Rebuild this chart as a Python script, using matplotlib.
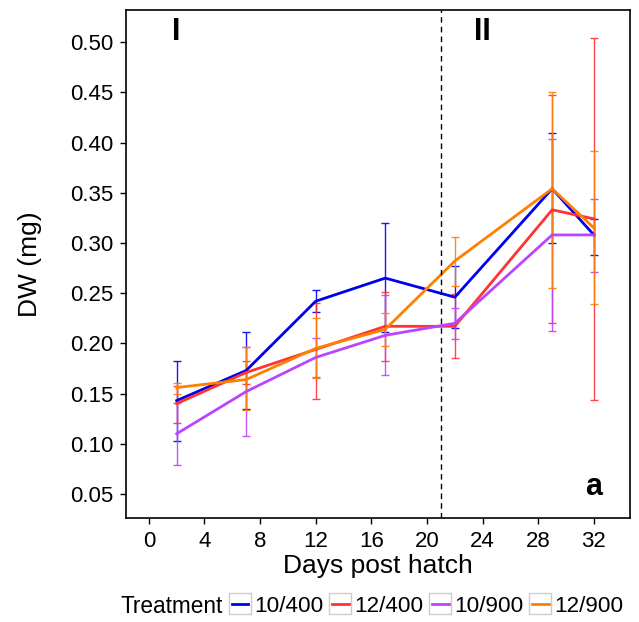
import matplotlib
matplotlib.use("Agg")
import matplotlib.pyplot as plt
from matplotlib.legend_handler import HandlerLine2D
from matplotlib.patches import Rectangle
from matplotlib.lines import Line2D

plt.rcParams['font.family'] = ['Liberation Sans', 'DejaVu Sans']

days = [2, 7, 12, 17, 22, 29, 32]
treatments = ["10/400", "12/400", "10/900", "12/900"]
colors = ["#0000ee", "#ff3333", "#bb44ff", "#ff8000"]

# mean dry weight per treatment
dw_10_400 = [0.143, 0.173, 0.242, 0.265, 0.246, 0.354, 0.308]
dw_12_400 = [0.140, 0.171, 0.194, 0.217, 0.217, 0.333, 0.324]
dw_10_900 = [0.110, 0.152, 0.186, 0.208, 0.220, 0.308, 0.308]
dw_12_900 = [0.156, 0.164, 0.195, 0.214, 0.282, 0.354, 0.315]

# error bar ends (low, high)
lo_10_400 = [0.103, 0.135, 0.231, 0.211, 0.215, 0.300, 0.288]
hi_10_400 = [0.182, 0.211, 0.253, 0.320, 0.277, 0.409, 0.324]
lo_12_400 = [0.121, 0.160, 0.145, 0.182, 0.185, 0.220, 0.144]
hi_12_400 = [0.158, 0.182, 0.240, 0.251, 0.249, 0.447, 0.504]
lo_10_900 = [0.079, 0.108, 0.167, 0.169, 0.204, 0.212, 0.271]
hi_10_900 = [0.141, 0.196, 0.205, 0.248, 0.235, 0.404, 0.344]
lo_12_900 = [0.150, 0.134, 0.166, 0.197, 0.257, 0.255, 0.239]
hi_12_900 = [0.161, 0.196, 0.225, 0.230, 0.306, 0.450, 0.392]

means = [dw_10_400, dw_12_400, dw_10_900, dw_12_900]
lows = [lo_10_400, lo_12_400, lo_10_900, lo_12_900]
highs = [hi_10_400, hi_12_400, hi_10_900, hi_12_900]


class BoxedLine(HandlerLine2D):
    # legend key with grey box, like ggplot
    def create_artists(self, legend, orig_handle, xdescent, ydescent, width, height, fontsize, trans):
        box = Rectangle((-xdescent, -ydescent - 2), width, height + 4, facecolor="white",
                        edgecolor="#cccccc", lw=1, transform=trans)
        y = -ydescent + height / 2
        ln = Line2D([-xdescent + 2, -xdescent + width - 2], [y, y], color=orig_handle.get_color(),
                    lw=2, transform=trans)
        return [box, ln]


fig = plt.figure(figsize=(6.39, 6.22), dpi=100)
ax = fig.add_axes([0.197, 0.167, 0.789, 0.817])

handles = []
for i, name in enumerate(treatments):
    m = means[i]
    err_lo = [m[k] - lows[i][k] for k in range(len(days))]
    err_hi = [highs[i][k] - m[k] for k in range(len(days))]
    ax.errorbar(days, m, yerr=[err_lo, err_hi], fmt="none", ecolor=colors[i],
                elinewidth=1, capsize=3, capthick=1, alpha=0.9)
for i, name in enumerate(treatments):
    h, = ax.plot(days, means[i], color=colors[i], lw=2, label=name)
    handles.append(h)

ax.axvline(21, color="black", ls=(0, (4, 3)), lw=1)

ax.set_xlim(-1.65, 34.6)
ax.set_ylim(0.026, 0.532)
ax.set_xticks([0, 4, 8, 12, 16, 20, 24, 28, 32])
ax.set_yticks([0.05, 0.10, 0.15, 0.20, 0.25, 0.30, 0.35, 0.40, 0.45, 0.50])
ax.set_yticklabels(["%.2f" % v for v in ax.get_yticks()])
ax.tick_params(labelsize=16, direction="out", length=4, width=1, colors="black", pad=5)
for s in ax.spines.values():
    s.set_linewidth(1.2)

ax.set_xlabel("Days post hatch", fontsize=19, labelpad=2)
ax.set_ylabel("DW (mg)", fontsize=19, labelpad=20)

ax.text(2, 0.5105, "I", fontsize=22, fontweight="bold", ha="center", va="center")
ax.text(24.0, 0.5105, "II", fontsize=22, fontweight="bold", ha="center", va="center")
ax.text(32, 0.057, "a", fontsize=22, fontweight="bold", ha="center", va="center")

fig.text(0.188, 0.0257, "Treatment", fontsize=16.3, ha="left", va="center")
fig.legend(handles=handles, labels=treatments, loc="center left", bbox_to_anchor=(0.358, 0.0257),
           ncol=4, frameon=False, fontsize=16.2, handlelength=1.0, handletextpad=0.15,
           columnspacing=0.22, borderaxespad=0, borderpad=0,
           handler_map={Line2D: BoxedLine()})

fig.savefig("out.png", dpi=100)
